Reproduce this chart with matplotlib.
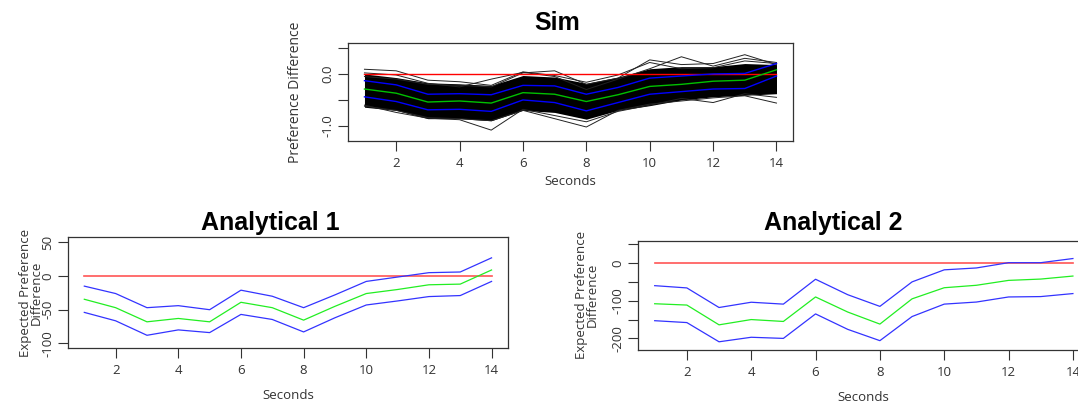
import numpy as np
import matplotlib.pyplot as plt

plt.rcParams['axes.unicode_minus'] = False
plt.rcParams['font.family'] = ['Open Sans', 'DejaVu Sans']

seconds = np.arange(1, 15)

# Sim panel: mean, +/- band, dense cloud envelope and some stray traces
sim_mean = [-0.29, -0.37, -0.54, -0.52, -0.56, -0.36, -0.39, -0.53, -0.40, -0.24, -0.20, -0.14, -0.12, 0.08]
sim_hi = [-0.13, -0.21, -0.39, -0.38, -0.40, -0.22, -0.23, -0.39, -0.26, -0.08, -0.04, 0.00, 0.01, 0.20]
sim_lo = [-0.44, -0.53, -0.69, -0.68, -0.72, -0.50, -0.55, -0.71, -0.55, -0.39, -0.34, -0.29, -0.28, -0.04]
cloud_top = [0.0, -0.07, -0.17, -0.19, -0.22, -0.03, -0.06, -0.18, -0.06, 0.10, 0.14, 0.14, 0.20, 0.18]
cloud_bot = [-0.64, -0.70, -0.86, -0.86, -0.90, -0.70, -0.74, -0.87, -0.70, -0.61, -0.50, -0.44, -0.41, -0.38]
stray = [
    [0.09, 0.06, -0.12, -0.15, -0.22, 0.04, -0.03, -0.16, -0.02, 0.22, 0.10, 0.12, 0.25, 0.20],
    [-0.60, -0.74, -0.85, -0.88, -1.08, -0.68, -0.80, -0.92, -0.72, -0.60, -0.47, -0.55, -0.38, -0.45],
    [-0.62, -0.70, -0.84, -0.86, -0.90, -0.70, -0.86, -1.02, -0.70, -0.58, -0.52, -0.46, -0.42, -0.56],
    [-0.05, -0.10, -0.20, -0.22, -0.25, 0.02, 0.06, -0.20, -0.08, 0.27, 0.18, 0.20, 0.37, 0.18],
    [0.02, -0.02, -0.18, -0.25, -0.10, 0.03, -0.05, -0.30, -0.10, 0.10, 0.33, 0.15, 0.30, 0.22],
]

# Analytical 1
a1_mean = [-34.5, -47, -68, -63, -68, -39, -47, -65.5, -45, -26, -20, -13, -12, 9]
a1_hi = [-15, -26, -47, -44, -50, -21, -30, -47, -28, -8, -1.5, 5, 6, 27]
a1_lo = [-54, -66.5, -88, -80, -84, -57, -64.5, -83, -62, -43, -37, -30.5, -29, -8]

# Analytical 2
a2_mean = [-108, -111.5, -164, -150, -155, -90, -130, -162, -95, -65.5, -59, -46, -42.5, -34.5]
a2_hi = [-60, -66, -118, -104, -109, -43, -84, -115, -50, -18, -13, 1, 1, 12]
a2_lo = [-153, -158, -209, -197, -200, -135, -176, -206, -142, -109, -103.5, -90, -89, -81]

xticks = [2, 4, 6, 8, 10, 12, 14]
txt = '#333333'

fig = plt.figure(figsize=(10.78, 4.05), dpi=100)


def style(ax, yt, ylabels, title, tx, tpad):
    ax.set_xlim(0.48, 14.52)
    ax.set_xticks(xticks)
    ax.set_yticks(yt)
    ax.set_yticklabels(ylabels, rotation=90, va='center')
    ax.tick_params(colors=txt, labelsize=9.5, length=7, width=0.8)
    ax.tick_params(axis='x', pad=4.5)
    ax.tick_params(axis='y', pad=3)
    for s in ax.spines.values():
        s.set_color(txt)
        s.set_linewidth(0.9)
    ax.set_title(title, fontsize=18, fontweight='bold', family='Liberation Sans', x=tx, pad=tpad)


ax1 = fig.add_axes([0.3228, 0.652, 0.4128, 0.242])
ax1.fill_between(seconds, cloud_bot, cloud_top, color='black', lw=0)
for tr in stray:
    ax1.plot(seconds, tr, color='#222222', lw=0.7)
ax1.plot(seconds, [0] * 14, color='red', lw=1)
ax1.plot(seconds, sim_hi, color='blue', lw=1)
ax1.plot(seconds, sim_lo, color='blue', lw=1)
ax1.plot(seconds, sim_mean, color='#00c000', lw=1)
ax1.set_ylim(-1.288, 0.596)
style(ax1, [0.5, 0, -0.5, -1.0], ['', '0.0', '', '-1.0'], 'Sim', 0.47, 9)
ax1.set_xlabel('Seconds', fontsize=9.5, color=txt, labelpad=4)
ax1.set_ylabel('Preference Difference', fontsize=10, color=txt)
ax1.yaxis.set_label_coords(-0.101, 0.5)

ax2 = fig.add_axes([0.0631, 0.1407, 0.408, 0.274])
ax2.plot(seconds, [0] * 14, color='#ff5555', lw=1.2)
ax2.plot(seconds, a1_hi, color='#3333ff', lw=0.9)
ax2.plot(seconds, a1_lo, color='#3333ff', lw=0.9)
ax2.plot(seconds, a1_mean, color='#22ee22', lw=0.9)
ax2.set_ylim(-106.9, 57.9)
style(ax2, [50, 0, -50, -100], ['50', '0', '-50', '-100'], 'Analytical 1', 0.459, 5)
ax2.set_xlabel('Seconds', fontsize=9.5, color=txt, labelpad=9)
ax2.set_ylabel('Expected Preference\nDifference', fontsize=9.5, color=txt, linespacing=0.8)
ax2.yaxis.set_label_coords(-0.057, 0.5)

ax3 = fig.add_axes([0.5918, 0.1358, 0.419, 0.269])
ax3.plot(seconds, [0] * 14, color='#ff5555', lw=1.2)
ax3.plot(seconds, a2_hi, color='#3333ff', lw=0.9)
ax3.plot(seconds, a2_lo, color='#3333ff', lw=0.9)
ax3.plot(seconds, a2_mean, color='#22ee22', lw=0.9)
ax3.set_ylim(-230.8, 58.4)
style(ax3, [50, 0, -50, -100, -150, -200], ['', '0', '', '-100', '', '-200'], 'Analytical 2', 0.432, 8)
ax3.set_xlabel('Seconds', fontsize=9.5, color=txt, labelpad=9)
ax3.set_ylabel('Expected Preference\nDifference', fontsize=9.5, color=txt, linespacing=0.8)
ax3.yaxis.set_label_coords(-0.086, 0.51)

fig.savefig('out.png', dpi=100)
